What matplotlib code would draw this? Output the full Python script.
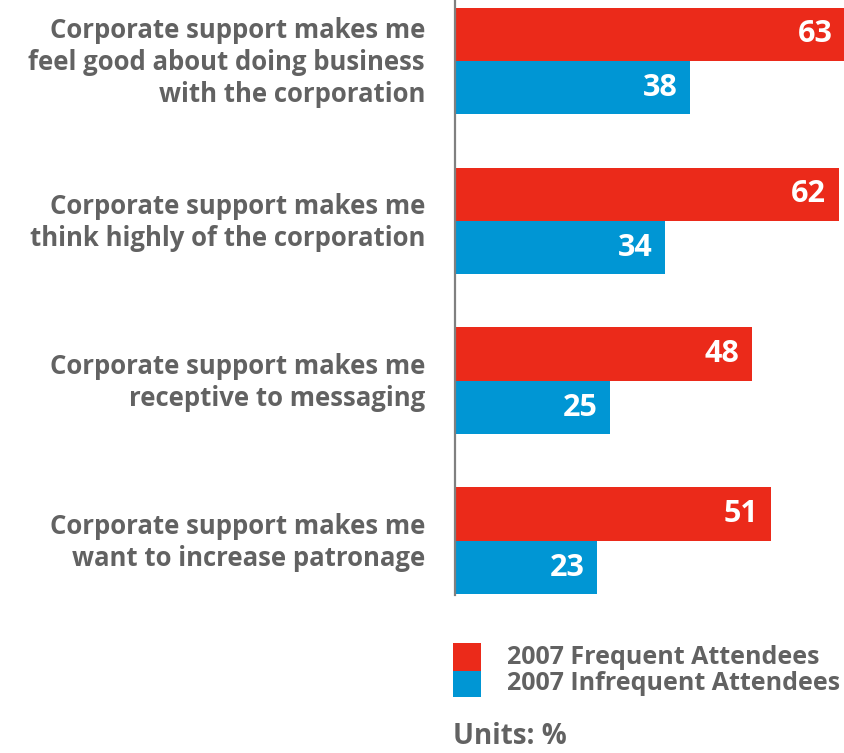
import matplotlib
matplotlib.use("Agg")
import matplotlib.pyplot as plt
from matplotlib.patches import Rectangle
from matplotlib.transforms import blended_transform_factory

categories = [
    "Corporate support makes me\nfeel good about doing business\nwith the corporation",
    "Corporate support makes me\nthink highly of the corporation",
    "Corporate support makes me\nreceptive to messaging",
    "Corporate support makes me\nwant to increase patronage",
]
frequent = [63, 62, 48, 51]
infrequent = [38, 34, 25, 23]
series_names = ["2007 Frequent Attendees", "2007 Infrequent Attendees"]
units_text = "Units: %"

RED = "#EB2A1A"
BLUE = "#0096D4"
GRAY = "#626262"
FONT = ["Open Sans", "DejaVu Sans"]

W, H = 845, 753
fig = plt.figure(figsize=(W / 100, H / 100), dpi=100)

# axes spans the bar area, pixel-based placement
ax_left, ax_top, ax_right, ax_bottom = 455, 0, 845, 595
ax = fig.add_axes([ax_left / W, 1 - ax_bottom / H,
                   (ax_right - ax_left) / W, (ax_bottom - ax_top) / H])

bar_h = 0.334
centers = list(range(len(categories)))
red_y = [c - bar_h / 2 for c in centers]
blue_y = [c + bar_h / 2 for c in centers]

ax.barh(red_y, frequent, height=bar_h, color=RED, zorder=1)
ax.barh(blue_y, infrequent, height=bar_h, color=BLUE, zorder=1)

ax.set_xlim(0, max(frequent))
ax.set_ylim(3 + 0.338, -0.381)

for s in ["top", "right", "bottom"]:
    ax.spines[s].set_visible(False)
ax.spines["left"].set_color("#808080")
ax.spines["left"].set_linewidth(1.6)
ax.set_xticks([])
ax.set_yticks([])

# value labels inside bar ends
for ys, vals in ((red_y, frequent), (blue_y, infrequent)):
    for y, v in zip(ys, vals):
        ax.annotate(str(v), (v, y), xytext=(-9, 0), textcoords="offset points",
                    ha="right", va="center", color="white", fontsize=22,
                    fontweight="bold", family=FONT)

# category labels to the left of the axis
trans = blended_transform_factory(fig.transFigure, ax.transData)
for c, label in zip(centers, categories):
    fig.text(425 / W, c + 0.01, label, transform=trans, ha="right", va="center",
             fontsize=18.5, color=GRAY, fontweight="bold", family=FONT,
             linespacing=1.24)

# legend swatches and labels
sw_x, sw_w = 453, 28
rows = [(643, 671, RED, series_names[0]), (671, 697, BLUE, series_names[1])]
for top, bot, col, name in rows:
    fig.add_artist(Rectangle((sw_x / W, 1 - bot / H), sw_w / W, (bot - top) / H,
                             transform=fig.transFigure, color=col, lw=0))
    fig.text(507 / W, 1 - ((top + bot) / 2) / H, name, ha="left", va="center",
             fontsize=18, color=GRAY, fontweight="bold", family=FONT)

fig.text(453 / W, 1 - 737 / H, units_text, ha="left", va="center",
         fontsize=20, color=GRAY, fontweight="bold", family=FONT)

fig.savefig("out.png", dpi=100, facecolor="white")
